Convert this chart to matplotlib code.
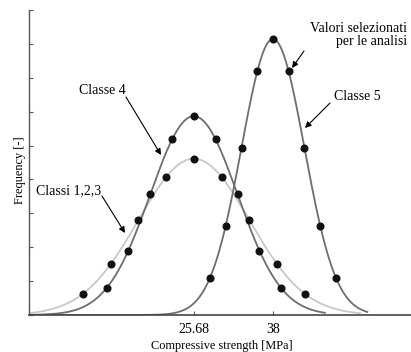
import numpy as np
import matplotlib
matplotlib.use("Agg")
import matplotlib.pyplot as plt

# Fitted normal distributions (compressive strength, MPa)
series_names = ["Classi 1,2,3", "Classe 4", "Classe 5"]
means = [25.68, 25.68, 38.0]
stds = [8.65, 6.8, 4.9]
curve_colors = ["#c8c8c8", "#6e6e6e", "#6e6e6e"]

# Selected values for the analyses (points on each curve)
pts_x_123 = [8.38, 12.71, 17.03, 21.36, 25.68, 30.01, 34.33, 38.66, 42.98]
pts_y_123 = [0.0062, 0.0150, 0.0280, 0.0407, 0.0461, 0.0407, 0.0280, 0.0150, 0.0062]
pts_x_4 = [12.08, 15.48, 18.88, 22.28, 25.68, 29.08, 32.48, 35.88, 39.28]
pts_y_4 = [0.0079, 0.0190, 0.0356, 0.0518, 0.0587, 0.0518, 0.0356, 0.0190, 0.0079]
pts_x_5 = [28.2, 30.65, 33.1, 35.55, 38.0, 40.45, 42.9, 45.35, 47.8]
pts_y_5 = [0.0110, 0.0264, 0.0494, 0.0719, 0.0814, 0.0719, 0.0494, 0.0264, 0.0110]

xtick_vals = [25.68, 38]
xtick_labels = ["25.68", "38"]

plt.rcParams['font.family'] = ['Liberation Serif', 'DejaVu Serif']

W, H = 411, 352
fig = plt.figure(figsize=(W / 100, H / 100), dpi=100)
ax_left, ax_bottom_px, ax_top_px = 29, 315, 10
ax_w = 60 * 6.42
ax = fig.add_axes([ax_left / W, (H - ax_bottom_px) / H, ax_w / W, (ax_bottom_px - ax_top_px) / H])
ax.set_xlim(0, 60)
ax.set_ylim(0, 0.09)

def pdf(x, m, s):
    return np.exp(-0.5 * ((x - m) / s) ** 2) / (s * np.sqrt(2 * np.pi))

for m, s, c in zip(means, stds, curve_colors):
    xs = np.linspace(0, m + 3 * s, 600)
    ax.plot(xs, pdf(xs, m, s), color=c, lw=1.3, zorder=2 if c != "#c8c8c8" else 1)

for px, py in [(pts_x_123, pts_y_123), (pts_x_4, pts_y_4), (pts_x_5, pts_y_5)]:
    ax.plot(px, py, 'o', color='#111111', ms=4.8, zorder=3, clip_on=False)

ax.spines['top'].set_visible(False)
ax.spines['right'].set_visible(False)
ax.spines['left'].set_color('#555555')
ax.spines['bottom'].set_color('#444444')
ax.spines['left'].set_linewidth(1.0)
ax.spines['bottom'].set_linewidth(1.2)

ax.set_yticks(np.arange(0, 0.091, 0.01))
ax.set_yticklabels([])
ax.set_xticks(xtick_vals)
ax.set_xticklabels(xtick_labels, fontsize=10)
ax.tick_params(direction='in', length=3, width=0.8, color='#555555', pad=6)

ax.set_xlabel("Compressive strength [MPa]", fontsize=8.8, labelpad=3)
fig.text(20 / W, 1 - 170 / H, "Frequency [-]", rotation=90, fontsize=8.8,
         ha='center', va='center')

def px2d(x, y):
    return ((x - 29) / 6.42, (315 - y) / 305 * 0.09)

arrow_kw = dict(arrowstyle='-|>', color='black', lw=0.8, mutation_scale=9,
                shrinkA=0, shrinkB=0)

annots = [
    ("Classe 4", (102, 90), 'center', (126, 97), (161, 155)),
    ("Classi 1,2,3", (69, 191), 'center', (102, 196), (125, 233)),
    ("Valori selezionati\nper le analisi", (407, 35), 'right', (304, 51), (292, 68)),
    ("Classe 5", (357.5, 97), 'center', (330, 103), (305, 128)),
]
for txt, tpos, ha, tail, head in annots:
    tx, ty = px2d(*tpos)
    ax.text(tx, ty, txt, fontsize=10, ha=ha, va='center', multialignment='right',
            linespacing=1.0, clip_on=False)
    ax.annotate('', xy=px2d(*head), xytext=px2d(*tail), arrowprops=arrow_kw,
                annotation_clip=False)

fig.savefig("out.png", dpi=100)
